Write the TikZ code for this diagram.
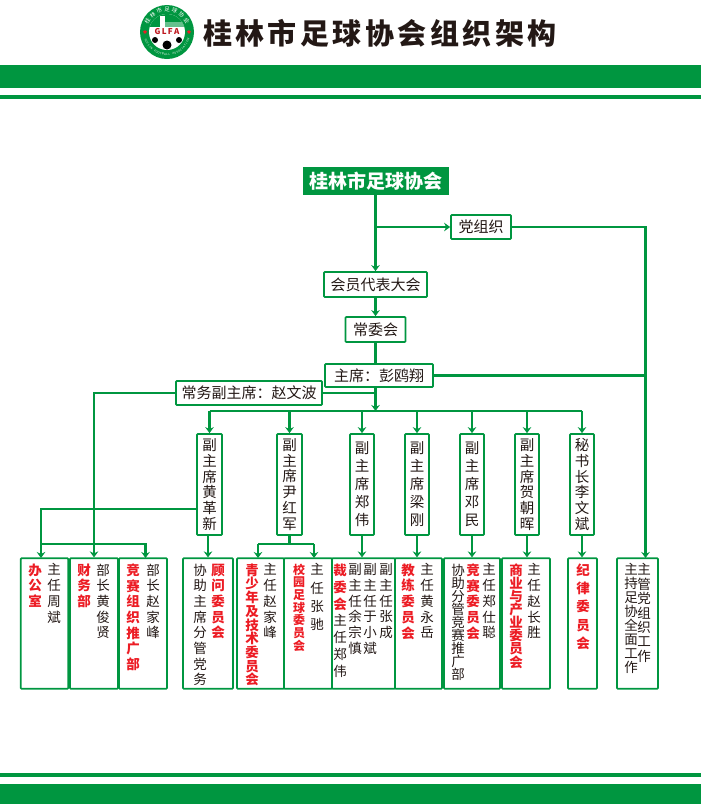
\documentclass[tikz,border=0pt]{standalone}
\usepackage{fontspec}
\setmainfont{Noto Sans CJK SC}
\usetikzlibrary{arrows.meta,shapes.geometric}
\definecolor{glgreen}{RGB}{0,150,64}
\definecolor{glred}{RGB}{236,28,36}
\definecolor{gltext}{RGB}{35,24,21}

\begin{document}
\begin{tikzpicture}[x=1pt,y=-1pt,
    hbox/.style={rectangle, draw=glgreen, line width=1.7pt, rounded corners=0.8pt, fill=white, inner sep=0pt, font=\fontsize{15}{16}\selectfont, text=gltext},
    vbox/.style={hbox, align=center, font=\fontsize{14.5}{15.8}\selectfont},
    dept/.style={rectangle, draw=glgreen, line width=1.7pt, rounded corners=0.8pt, minimum height=130.5pt, inner sep=0pt},
    col/.style={anchor=north, inner sep=0pt, align=center, text width=14pt, text=gltext, font=\fontsize{13.5}{#1}\selectfont},
    redcol/.style={anchor=north, inner sep=0pt, align=center, text width=14pt, text=glred, font=\fontsize{13.5}{#1}\selectfont\bfseries},
    ringtext/.style={inner sep=0pt, text=white, font=\fontsize{#1}{#1}\selectfont},
    arrow/.style={->, line width=2.7pt, draw=glgreen, >={Stealth[length=6pt,width=8.5pt]}},
    link/.style={line width=2.7pt, draw=glgreen}
]
\useasboundingbox (0,0) rectangle (701,804);

% bands
\fill[glgreen] (0,65) rectangle (701,88);
\fill[glgreen] (0,95) rectangle (701,99);
\fill[glgreen] (0,773) rectangle (701,777);
\fill[glgreen] (0,784) rectangle (701,804);

% badge
\coordinate (hub) at (167,32);
\fill[glgreen] (hub) circle (27);
\fill[white] (hub) circle (18);
\begin{scope}
\clip (hub) circle (18);
\fill[glgreen] (148,13) rectangle (186,27);
\fill[white] (160,16) rectangle (165,27);
\fill[glgreen!60!white] (165,22) rectangle (186,27);
\fill[black] (167,45) circle (4.5);
\fill[black] (155,40) circle (3);
\fill[black] (179,40) circle (3);
\end{scope}
\node[font=\bfseries\itshape\fontsize{8}{8}\selectfont, text=glred!80!black, fill=white, inner sep=0.5pt] (badge) at (hub) {G\,L\,F\,A};
\node[star, star points=5, fill=glred, inner sep=0pt, minimum size=4pt] (starL) at (145,32) {};
\node[star, star points=5, fill=glred, inner sep=0pt, minimum size=4pt] (starR) at (189,32) {};
\foreach \ch [count=\i, evaluate=\i as \ang using 170-\i*20] in {桂,林,市,足,球,协,会}
    \node[ringtext=5.5, rotate=\ang-90] (ringA\i) at ([shift={(\ang:22.5pt)}]hub) {\ch};
\foreach \ch [count=\i, evaluate=\i as \ang using 194.6+\i*5.4] in {G,U,I,L,I,N,{},F,O,O,T,B,A,L,L,{},A,S,S,O,C,I,A,T,I,O,N}
    \node[ringtext=2.8, rotate=\ang-270] (ringB\i) at ([shift={(\ang:22.5pt)}]hub) {\ch};

% title
\node[font=\fontsize{29}{30}\selectfont\bfseries, text=gltext, inner sep=0pt] (title) at (380,33)
    {桂\hspace{3.5pt}林\hspace{3.5pt}市\hspace{3.5pt}足\hspace{3.5pt}球\hspace{3.5pt}协\hspace{3.5pt}会\hspace{3.5pt}组\hspace{3.5pt}织\hspace{3.5pt}架\hspace{3.5pt}构};

% top of the chart
\node[rectangle, fill=glgreen, text=white, inner sep=0pt, minimum width=146pt, minimum height=28pt, font=\fontsize{19}{20}\selectfont\bfseries] (assoc) at (375.5,181) {桂林市足球协会};
\node[hbox, minimum width=60pt, minimum height=24pt] (party) at (481,227) {党组织};
\node[hbox, minimum width=103pt, minimum height=25pt] (congress) at (375.5,284.5) {会员代表大会};
\node[hbox, minimum width=60pt, minimum height=25pt] (standing) at (375.5,329.5) {常委会};
\node[hbox, minimum width=108pt, minimum height=23pt] (chair) at (379,375.5) {主席：彭鸥翔};
\node[hbox, minimum width=146pt, minimum height=24pt] (execvice) at (249,393) {常务副主席：赵文波};

% second row
\node[vbox, minimum width=25pt, minimum height=101pt] (viceA) at (209.5,484.5) {副\\主\\席\\黄\\革\\新};
\node[vbox, minimum width=25pt, minimum height=101pt] (viceB) at (289.5,484.5) {副\\主\\席\\尹\\红\\军};
\node[vbox, minimum width=24pt, minimum height=101pt, font=\fontsize{14.5}{18}\selectfont] (viceC) at (362,484.5) {副\\主\\席\\郑\\伟};
\node[vbox, minimum width=24pt, minimum height=101pt, font=\fontsize{14.5}{18}\selectfont] (viceD) at (417,484.5) {副\\主\\席\\梁\\刚};
\node[vbox, minimum width=24pt, minimum height=101pt, font=\fontsize{14.5}{18}\selectfont] (viceE) at (472,484.5) {副\\主\\席\\邓\\民};
\node[vbox, minimum width=24pt, minimum height=101pt] (viceF) at (527,484.5) {副\\主\\席\\贺\\朝\\晖};
\node[vbox, minimum width=24pt, minimum height=101pt] (viceG) at (582,484.5) {秘\\书\\长\\李\\文\\斌};

% department boxes
\node[dept, minimum width=47.5pt] (office) at (44.5,623.5) {};
\node[dept, minimum width=48pt] (finance) at (94,623.5) {};
\node[dept, minimum width=48pt] (promo) at (143,623.5) {};
\node[dept, minimum width=50pt] (advise) at (208,623.5) {};
\node[dept, minimum width=47pt] (youth) at (260.5,623.5) {};
\node[dept, minimum width=48pt] (campus) at (308,623.5) {};
\node[dept, minimum width=63pt] (referee) at (363.5,623.5) {};
\node[dept, minimum width=47pt] (coach) at (418.5,623.5) {};
\node[dept, minimum width=56pt] (match) at (472,623.5) {};
\node[dept, minimum width=48pt] (biz) at (526,623.5) {};
\node[dept, minimum width=29pt] (disc) at (582.5,623.5) {};
\node[dept, minimum width=41pt] (partywork) at (637.5,623.5) {};

% department texts
\node[redcol=15.7] (t1a) at (35,563.5) {办\\公\\室};
\node[col=15.7] (t1b) at (54,563.5) {主\\任\\周\\斌};
\node[redcol=15.7] (t2a) at (84,563.5) {财\\务\\部};
\node[col=15.7] (t2b) at (103,563.5) {部\\长\\黄\\俊\\贤};
\node[redcol=15.7] (t3a) at (133,563.5) {竞\\赛\\组\\织\\推\\广\\部};
\node[col=15.7] (t3b) at (153,563.5) {部\\长\\赵\\家\\峰};
\node[col=15.7] (t4a) at (200,563.5) {协\\助\\主\\席\\分\\管\\党\\务};
\node[redcol=15.7] (t4b) at (218,563.5) {顾\\问\\委\\员\\会};
\node[redcol=13.7] (t5a) at (252,563.5) {青\\少\\年\\及\\技\\术\\委\\员\\会};
\node[col=15.7] (t5b) at (270,563.5) {主\\任\\赵\\家\\峰};
\node[redcol=12.7, font=\fontsize{12}{12.7}\selectfont\bfseries] (t6a) at (299,563.5) {校\\园\\足\\球\\委\\员\\会};
\node[col=18.3] (t6b) at (317,563.5) {主\\任\\张\\驰};
\node[redcol=17] (t7a) at (340,563.5) {裁\\委\\会};
\node[col=17] (t7b) at (340,614.5) {主\\任\\郑\\伟};
\node[col=15.7] (t7c) at (355,563.5) {副\\主\\任\\余\\宗\\慎};
\node[col=15.7] (t7d) at (370,563.5) {副\\主\\任\\于\\小\\斌};
\node[col=15.7] (t7e) at (386,563.5) {副\\主\\任\\张\\成};
\node[redcol=15.7] (t8a) at (408,563.5) {教\\练\\委\\员\\会};
\node[col=15.7] (t8b) at (427,563.5) {主\\任\\黄\\永\\岳};
\node[col=13] (t9a) at (458,563.5) {协\\助\\分\\管\\竞\\赛\\推\\广\\部};
\node[redcol=15.7] (t9b) at (473,563.5) {竞\\赛\\委\\员\\会};
\node[col=15.7] (t9c) at (489,563.5) {主\\任\\郑\\仕\\聪};
\node[redcol=13] (t10a) at (516,563.5) {商\\业\\与\\产\\业\\委\\员\\会};
\node[col=15.7] (t10b) at (534,563.5) {主\\任\\赵\\长\\胜};
\node[redcol=18.3] (t11) at (583,563.5) {纪\\律\\委\\员\\会};
\node[col=14] (t12a) at (631,563.5) {主\\持\\足\\协\\全\\面\\工\\作};
\node[col=14.4] (t12b) at (644,563.5) {主\\管\\党\\组\\织\\工\\作};

% junctions
\coordinate (spineA) at (375.5,227);
\coordinate (chairTop) at (375.5,364);
\coordinate (chairLow) at (375.5,387);
\coordinate (spineB) at (375.5,411);
\coordinate (rightTurn) at (645.5,227);
\coordinate (rightMid) at (645.5,375.5);
\coordinate (partyIn) at (645.5,558);
\coordinate (leftTurn) at (94,393);
\coordinate (youthDrop) at (289.5,544);
\coordinate (officeTurn) at (41,509);
\coordinate (officeIn) at (41,558);
\coordinate (officeFork) at (41,544);
\coordinate (promoFork) at (145.5,544);
\coordinate (promoIn) at (145.5,558);
\coordinate (youthIn) at (258,558);
\coordinate (campusIn) at (314,558);

% connectors
\draw[arrow, line width=3.4pt] (assoc.south) -- (congress.north);
\draw[arrow] (spineA) -- (party.west);
\draw[arrow] (congress.south) -- (standing.north);
\draw[link] (standing.south) -- (chairTop);
\draw[arrow] (chairLow) -- (spineB);
\draw[link] (execvice.east) -- (execvice.east -| spineB);
\draw[arrow] (party.east) -- (rightTurn) -- (partyIn);
\draw[link] (chair.east) -- (rightMid);
\draw[arrow] (execvice.west) -- (leftTurn) -- (finance.north);
\foreach \vice in {viceA,viceB,viceC,viceD,viceE,viceF,viceG}
    \draw[arrow] (spineB -| \vice.north) -- (\vice.north);
\draw[link] (spineB -| viceA.north) -- (spineB -| viceG.north);
\draw[arrow] (advise.north |- viceA.south) -- (advise.north);
\draw[arrow] (viceC.south) -- (viceC.south |- referee.north);
\draw[arrow] (viceD.south) -- (viceD.south |- coach.north);
\draw[arrow] (viceE.south) -- (viceE.south |- match.north);
\draw[arrow] (viceF.south) -- (viceF.south |- biz.north);
\draw[arrow] (viceG.south) -- (viceG.south |- disc.north);
\draw[arrow] (viceA.west |- officeTurn) -- (officeTurn) -- (officeIn);
\draw[arrow] (officeFork) -- (promoFork) -- (promoIn);
\draw[link] (viceB.south) -- (youthDrop);
\draw[arrow] (youthIn |- youthDrop) -- (youthIn);
\draw[arrow] (campusIn |- youthDrop) -- (campusIn);
\draw[link] (youthIn |- youthDrop) -- (youthDrop -| campusIn);
\end{tikzpicture}
\end{document}
